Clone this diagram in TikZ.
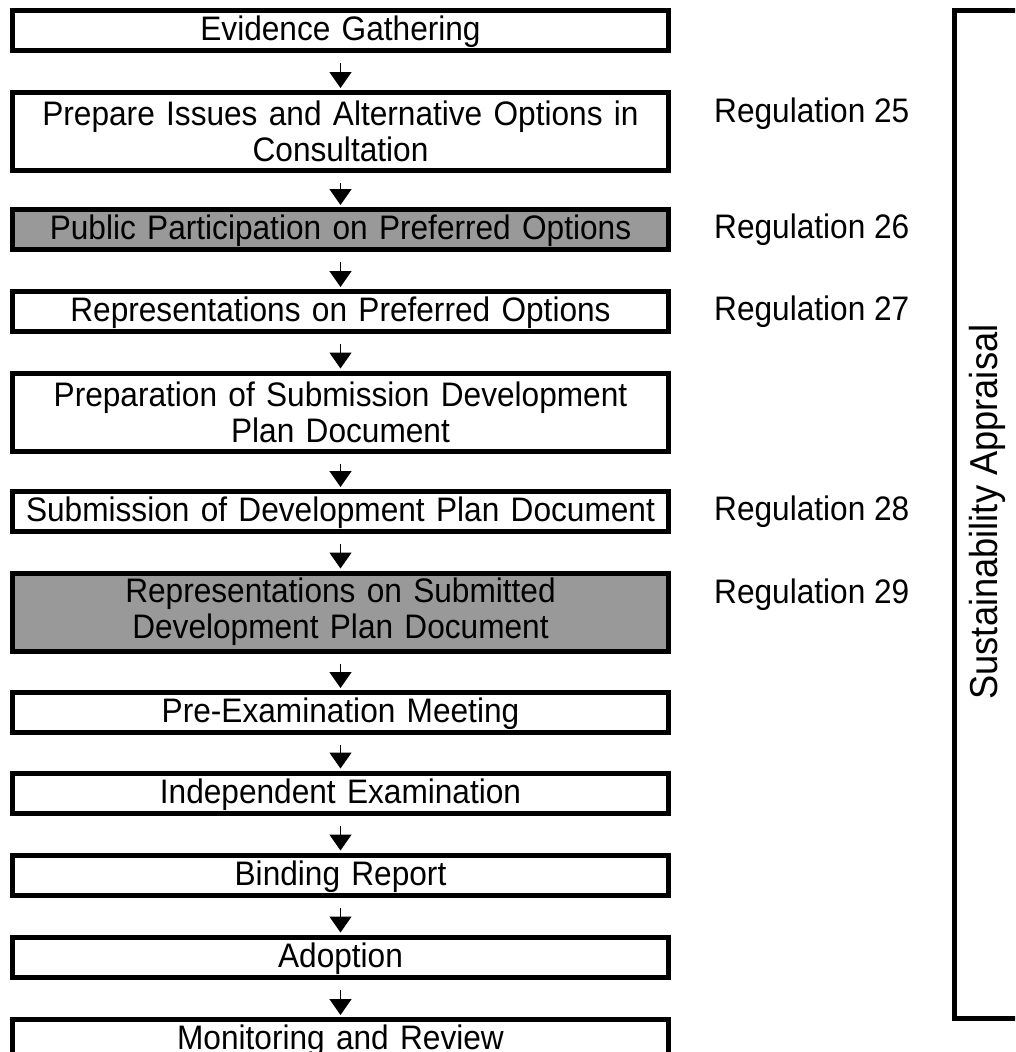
\documentclass[tikz,border=0pt]{standalone}
\usepackage{fontspec}
\setmainfont{Liberation Sans}[FakeStretch=0.93]
\usetikzlibrary{arrows.meta,positioning}
\definecolor{stagegray}{RGB}{153,153,153}

\tikzset{
  stage/.style={draw, line width=5pt, minimum width=656pt, minimum height=40pt,
    text width=640pt, align=center, inner sep=0pt,
    font=\fontsize{34}{36}\selectfont},
  stageone/.style={stage, text height=25pt, text depth=5pt},
  stagetwo/.style={stage, minimum height=78pt},
  shaded/.style={fill=stagegray},
  reg/.style={anchor=west, inner sep=0pt, font=\fontsize{34}{36}\selectfont},
  flow/.style={-{Triangle[length=16pt,width=22pt]}, line width=1.5pt, shorten >=2pt}
}

\begin{document}
\begin{tikzpicture}[x=1pt,y=-1pt]
    \useasboundingbox (0,0) rectangle (1015,1052);
    \clip (0,0) rectangle (1015,1052);
    % stages
    \node[stageone] (s1) at (340.5,30.5) {Evidence Gathering};
    \node[stagetwo] (s2) at (340.5,131.5) {Prepare Issues and Alternative Options in\\Consultation};
    \node[stageone,shaded] (s3) at (340.5,229.5) {Public Participation on Preferred Options};
    \node[stageone] (s4) at (340.5,311.5) {Representations on Preferred Options};
    \node[stagetwo] (s5) at (340.5,412) {Preparation of Submission Development\\Plan Document};
    \node[stageone] (s6) at (340.5,511.5) {Submission of Development Plan Document};
    \node[stagetwo,shaded] (s7) at (340.5,612) {Representations on Submitted\\Development Plan Document};
    \node[stageone] (s8) at (340.5,712.5) {Pre-Examination Meeting};
    \node[stageone] (s9) at (340.5,793) {Independent Examination};
    \node[stageone] (s10) at (340.5,875) {Binding Report};
    \node[stageone] (s11) at (340.5,957) {Adoption};
    \node[stageone] (s12) at (340.5,1039.5) {Monitoring and Review};
    % arrows
    \draw[flow] ([yshift=-10pt]s1.south) -- (s2.north);
    \draw[flow] ([yshift=-10pt]s2.south) -- (s3.north);
    \draw[flow] ([yshift=-10pt]s3.south) -- (s4.north);
    \draw[flow] ([yshift=-10pt]s4.south) -- (s5.north);
    \draw[flow] ([yshift=-10pt]s5.south) -- (s6.north);
    \draw[flow] ([yshift=-10pt]s6.south) -- (s7.north);
    \draw[flow] ([yshift=-10pt]s7.south) -- (s8.north);
    \draw[flow] ([yshift=-10pt]s8.south) -- (s9.north);
    \draw[flow] ([yshift=-10pt]s9.south) -- (s10.north);
    \draw[flow] ([yshift=-10pt]s10.south) -- (s11.north);
    \draw[flow] ([yshift=-10pt]s11.south) -- (s12.north);
    % regulations
    \node[reg] (r25) at (714,114) {Regulation 25};
    \node[reg] (r26) at (714,229.5) {Regulation 26};
    \node[reg] (r27) at (714,311.5) {Regulation 27};
    \node[reg] (r28) at (714,511.5) {Regulation 28};
    \node[reg] (r29) at (714,595) {Regulation 29};
    % sustainability appraisal
    \draw[line width=5pt] (1040,10.5) -- (954.5,10.5) -- (954.5,1018) -- (1040,1018);
    \node[rotate=90, inner sep=0pt, font=\fontsize{39}{40}\selectfont] (sa) at (987,512) {Sustainability Appraisal};
\end{tikzpicture}
\end{document}
